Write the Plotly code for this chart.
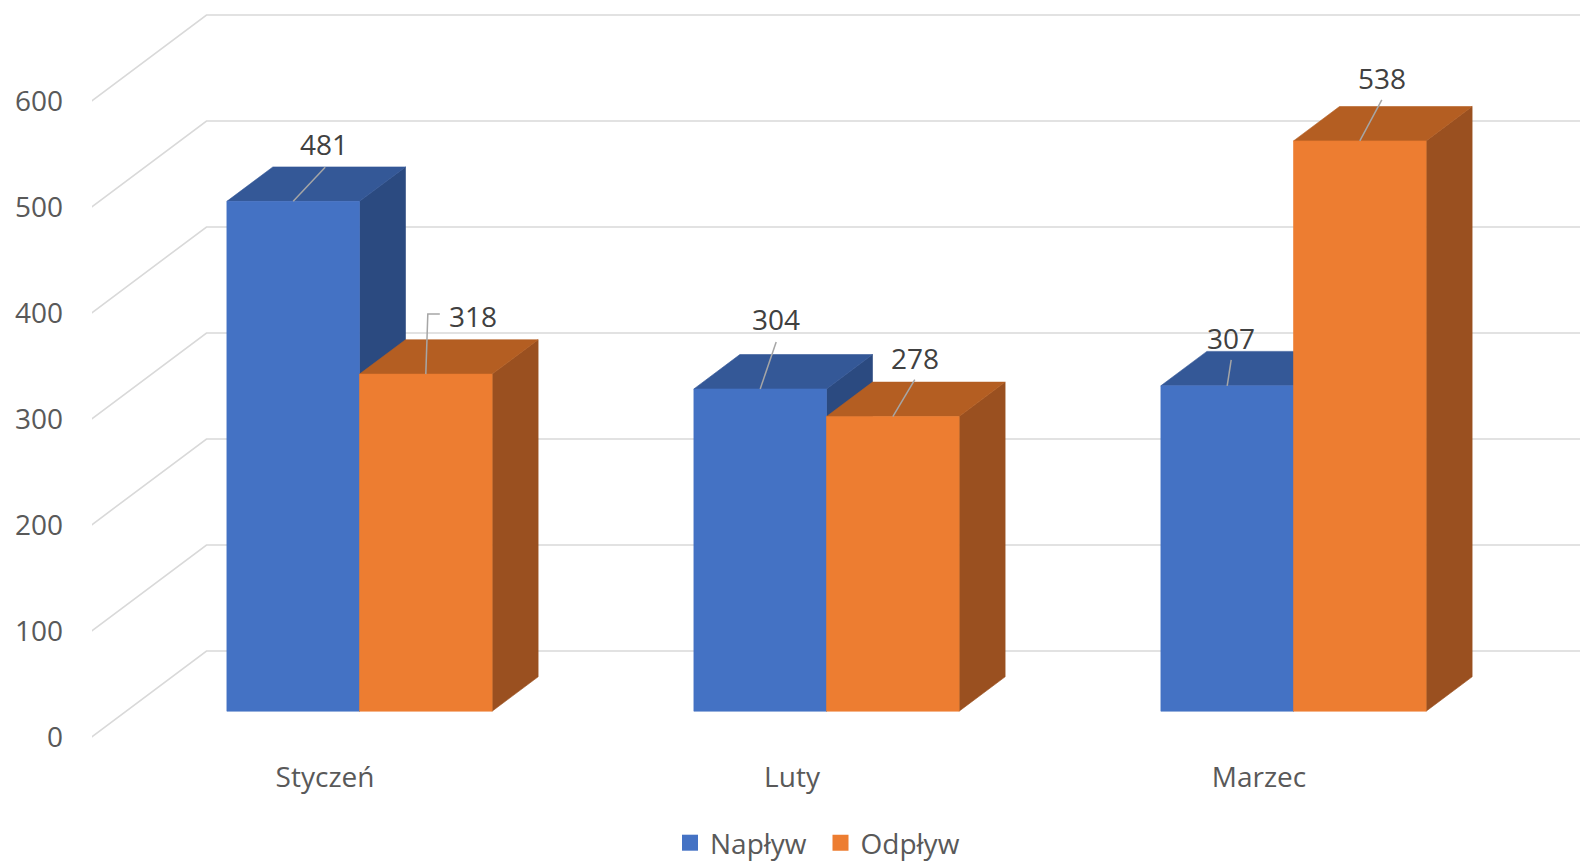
import plotly.graph_objects as go

# ---------------- data ----------------
categories = ["Styczeń", "Luty", "Marzec"]
series_names = ["Napływ", "Odpływ"]
naplyw = [481, 304, 307]
odplyw = [318, 278, 538]
y_ticks = [0, 100, 200, 300, 400, 500, 600]

# ---------------- style / geometry ----------------
FONT = "Open Sans"
PX_X = 467.0          # pixels per category unit
PX_Y = 1.06           # pixels per value unit
DEPTH_DX = 115 / PX_X  # oblique depth offset (x units)
DEPTH_DY = 86 / PX_Y   # oblique depth offset (value units)
Z_FRONT, Z_BACK = 0.30, 0.70
BAR_W = 0.284

colors = [
    {"front": "#4472C4", "top": "#345897", "side": "#2B4A80"},
    {"front": "#ED7D31", "top": "#B45E22", "side": "#9A5020"},
]
GRID = "#D9D9D9"
LEADER = "#A6A6A6"

# label offsets in px (dx right, dy down) relative to front-top centre of bar
label_off = [[(31, -57), (16, -70), (4, -48)],
             [(47, -58), (22, -59), (22, -63)]]
leader_path = [[[(32, -34)], [(16, -47)], [(4, -26)]],
               [[(2, -60), (14, -60)], [(22, -37)], [(22, -41)]]]
legend_left_px = [670, 820.5]
LEGEND_Y_PX = 843

W, H = 1580, 862
ML, MB = 92, 112
x_center0_px = 325.0
y_zero_px = 737.0
x_range = [(ML - x_center0_px) / PX_X, (W - x_center0_px) / PX_X]
y_range = [(y_zero_px - (H - MB)) / PX_Y, y_zero_px / PX_Y]

fig = go.Figure()

# ---------------- grid (left wall + back wall) ----------------
x_left = -0.5
for v in y_ticks:
    fig.add_trace(go.Scatter(
        x=[x_left, x_left + DEPTH_DX, 4.0],
        y=[v, v + DEPTH_DY, v + DEPTH_DY],
        mode="lines", line=dict(color=GRID, width=1.6),
        hoverinfo="skip", showlegend=False))


def poly(xs, ys, color):
    fig.add_trace(go.Scatter(
        x=xs + [xs[0]], y=ys + [ys[0]], mode="lines", fill="toself",
        fillcolor=color, line=dict(color=color, width=0.6),
        hoverinfo="skip", showlegend=False))


values = [naplyw, odplyw]
annotations = []
for i, cat in enumerate(categories):
    for s in range(2):
        v = values[s][i]
        c = colors[s]
        x0 = i - BAR_W + s * BAR_W
        x1 = x0 + BAR_W
        fx, fy = Z_FRONT * DEPTH_DX, Z_FRONT * DEPTH_DY
        bx, by = Z_BACK * DEPTH_DX, Z_BACK * DEPTH_DY
        # side face
        poly([x1 + fx, x1 + bx, x1 + bx, x1 + fx],
             [fy, by, v + by, v + fy], c["side"])
        # top face
        poly([x0 + fx, x1 + fx, x1 + bx, x0 + bx],
             [v + fy, v + fy, v + by, v + by], c["top"])
        # front face
        poly([x0 + fx, x1 + fx, x1 + fx, x0 + fx],
             [fy, fy, v + fy, v + fy], c["front"])

# leaders and labels
for i in range(len(categories)):
    for s in range(2):
        v = values[s][i]
        ax_ = i - BAR_W + s * BAR_W + BAR_W / 2 + Z_FRONT * DEPTH_DX
        ay_ = v + Z_FRONT * DEPTH_DY
        xs, ys = [ax_], [ay_]
        for (dx, dy) in leader_path[s][i]:
            xs.append(ax_ + dx / PX_X)
            ys.append(ay_ - dy / PX_Y)
        fig.add_trace(go.Scatter(x=xs, y=ys, mode="lines",
                                 line=dict(color=LEADER, width=1.5),
                                 hoverinfo="skip", showlegend=False))
        ox, oy = label_off[s][i]
        annotations.append(dict(
            x=ax_, y=ay_, xref="x", yref="y", text=str(v), showarrow=False,
            xshift=ox, yshift=-oy, xanchor="center", yanchor="middle",
            font=dict(family=FONT, size=28, color="#404040")))

# legend entries (one legend per series so each can be placed exactly)
legend_ids = ["legend", "legend2"]
for s in range(2):
    fig.add_trace(go.Scatter(
        x=[None], y=[None], mode="markers", name=series_names[s],
        legend=legend_ids[s], showlegend=True,
        marker=dict(symbol="square", size=18, color=colors[s]["front"])))

legend_common = dict(orientation="h", xref="container", yref="container",
                     xanchor="left", yanchor="middle",
                     bgcolor="rgba(0,0,0,0)",
                     font=dict(family=FONT, size=28, color="#595959"),
                     itemclick=False, itemdoubleclick=False)

fig.update_layout(
    width=W, height=H,
    margin=dict(l=ML, r=0, t=0, b=MB),
    paper_bgcolor="white", plot_bgcolor="white",
    font=dict(family=FONT, size=28, color="#595959"),
    annotations=annotations,
    showlegend=True,
    legend=dict(x=legend_left_px[0] / W, y=1 - LEGEND_Y_PX / H, **legend_common),
    legend2=dict(x=legend_left_px[1] / W, y=1 - LEGEND_Y_PX / H, **legend_common),
    xaxis=dict(range=x_range, showgrid=False, zeroline=False, showline=False,
               tickmode="array", tickvals=list(range(len(categories))),
               ticktext=categories, ticks="", fixedrange=True,
               ticklabelstandoff=8,
               tickfont=dict(family=FONT, size=28, color="#595959")),
    yaxis=dict(range=y_range, showgrid=False, zeroline=False, showline=False,
               tickmode="array", tickvals=y_ticks,
               ticktext=[str(t) for t in y_ticks], ticks="",
               ticklabelstandoff=28, fixedrange=True,
               tickfont=dict(family=FONT, size=28, color="#595959")),
)

fig.write_html(
    "out.html",
    config={"displayModeBar": False},
    post_script="document.body.style.margin='0';document.body.style.overflow='hidden';",
)
